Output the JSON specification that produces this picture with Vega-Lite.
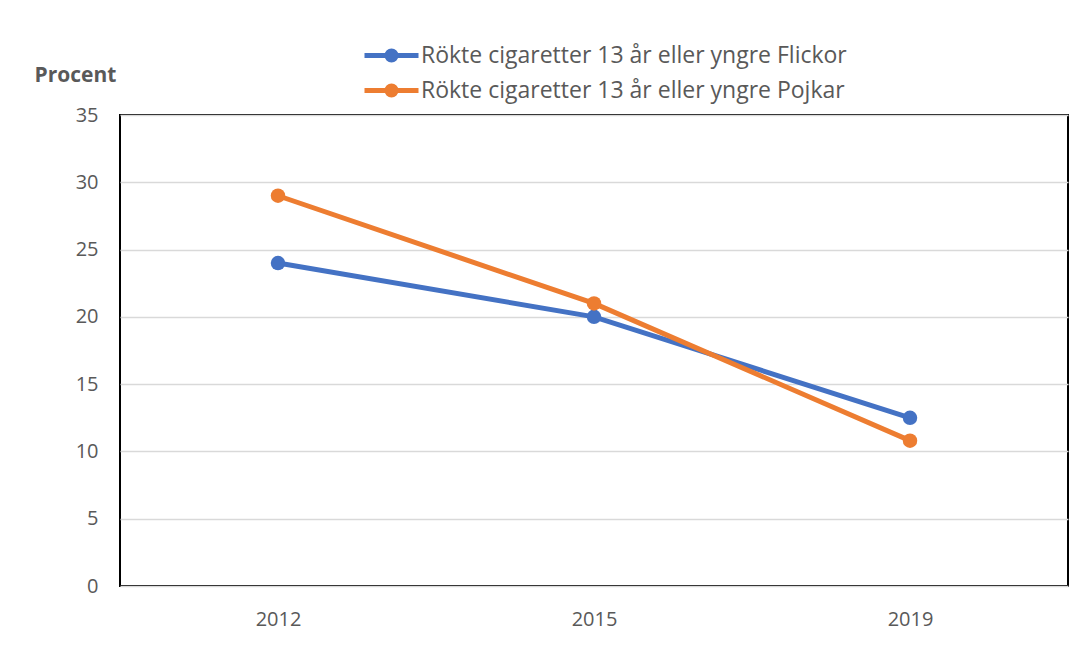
{
  "$schema": "https://vega.github.io/schema/vega-lite/v6.json",
  "width": 948,
  "height": 471,
  "autosize": {"type": "none"},
  "padding": {"left": 120, "top": 115, "right": 23, "bottom": 86},
  "background": "white",
  "config": {
    "font": "Open Sans",
    "view": {"stroke": "black", "strokeWidth": 2},
    "axis": {"labelColor": "#595959", "labelFontSize": 20, "labelFont": "Open Sans"}
  },
  "data": {
    "values": [
      {"year": "2012", "serie": "Rökte cigaretter 13 år eller yngre Flickor", "value": 24.0},
      {"year": "2015", "serie": "Rökte cigaretter 13 år eller yngre Flickor", "value": 20.0},
      {"year": "2019", "serie": "Rökte cigaretter 13 år eller yngre Flickor", "value": 12.5},
      {"year": "2012", "serie": "Rökte cigaretter 13 år eller yngre Pojkar", "value": 29.0},
      {"year": "2015", "serie": "Rökte cigaretter 13 år eller yngre Pojkar", "value": 21.0},
      {"year": "2019", "serie": "Rökte cigaretter 13 år eller yngre Pojkar", "value": 10.8}
    ]
  },
  "encoding": {
    "x": {
      "field": "year", "type": "ordinal",
      "scale": {"type": "point", "padding": 0.5},
      "axis": {"title": null, "labelAngle": 0, "ticks": false, "domain": false, "labelPadding": 23, "grid": false}
    },
    "y": {
      "field": "value", "type": "quantitative",
      "scale": {"domain": [0, 35]},
      "axis": {
        "values": [0, 5, 10, 15, 20, 25, 30, 35],
        "ticks": false, "domain": false, "gridColor": "#d9d9d9", "gridWidth": 1.5,
        "labelPadding": 22,
        "title": "Procent", "titleAngle": 0, "titleAlign": "left", "titleBaseline": "alphabetic",
        "titleX": -86, "titleY": -34, "titleFontSize": 21, "titleFontWeight": "bold", "titleColor": "#595959"
      }
    },
    "color": {
      "field": "serie", "type": "nominal",
      "scale": {"range": ["#4472C4", "#ED7D31"]},
      "legend": {
        "title": null, "orient": "none", "legendX": 259, "legendY": -72,
        "labelFontSize": 23, "labelColor": "#595959", "labelFont": "Open Sans", "labelLimit": 0,
        "symbolType": "M-2.7,0H2.7M0.45,0A0.45,0.45,0,1,1,-0.45,0A0.45,0.45,0,1,1,0.45,0",
        "symbolSize": 400, "symbolStrokeWidth": 5, "labelOffset": 17, "rowPadding": 6,
        "encode": {"symbols": {"update": {"fill": {"scale": "color", "field": "value"}}}}
      }
    }
  },
  "layer": [
    {"mark": {"type": "line", "strokeWidth": 5}},
    {"mark": {"type": "circle", "size": 210, "opacity": 1}}
  ]
}
